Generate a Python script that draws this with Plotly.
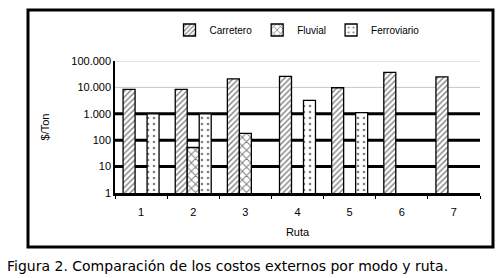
import plotly.graph_objects as go

rutas = ["1", "2", "3", "4", "5", "6", "7"]
carretero = [8400, 8400, 21000, 26000, 9700, 37000, 25000]
fluvial = [None, 53, 180, None, None, None, None]
ferroviario = [1000, 1000, None, 3200, 1100, None, None]
ytickvals = [1, 10, 100, 1000, 10000, 100000]
yticktext = ["1", "10", "100", "1.000", "10.000", "100.000"]
black_grid = [10, 100, 1000]
gray_grid = [10000, 100000]

L, R, T, B = 115, 20, 61, 85
W, H = 500, 278
pw, ph = W - L - R, H - T - B

def px_x(x):
    return (x - L) / pw

def px_y(y):
    return (H - B - y) / ph

fig = go.Figure()
fig.add_trace(go.Bar(
    x=rutas, y=carretero, name="Carretero",
    marker=dict(color="white", line=dict(color="black", width=1.3),
                pattern=dict(shape="/", fgcolor="black", bgcolor="white", size=4, solidity=0.35)),
))
fig.add_trace(go.Bar(
    x=rutas, y=fluvial, name="Fluvial",
    marker=dict(color="white", line=dict(color="black", width=1.3),
                pattern=dict(shape="x", fgcolor="black", bgcolor="white", size=6, solidity=0.3)),
))
fig.add_trace(go.Bar(
    x=rutas, y=ferroviario, name="Ferroviario",
    marker=dict(color="white", line=dict(color="black", width=1.3),
                pattern=dict(shape=".", fgcolor="black", bgcolor="white", size=6, solidity=0.15)),
))

shapes = []
for v in gray_grid:
    shapes.append(dict(type="line", xref="paper", yref="y", x0=0, x1=1, y0=v, y1=v,
                       line=dict(color="#c8c8c8", width=1), layer="between"))
for v in black_grid:
    shapes.append(dict(type="line", xref="paper", yref="y", x0=0, x1=1, y0=v, y1=v,
                       line=dict(color="black", width=3), layer="between"))
# outer frame
shapes.append(dict(type="rect", xref="paper", yref="paper",
                   x0=px_x(28), x1=px_x(493), y0=px_y(247), y1=px_y(10),
                   line=dict(color="black", width=3)))

font = "Liberation Sans, Arial, sans-serif"
fig.update_layout(
    width=W, height=H,
    margin=dict(l=L, r=R, t=T, b=B),
    paper_bgcolor="white", plot_bgcolor="white",
    barmode="group", bargap=0.31, bargroupgap=0,
    font=dict(family=font, size=11, color="black"),
    shapes=shapes,
    showlegend=True,
    legend=dict(orientation="h", x=px_x(297), xanchor="center", y=px_y(30), yanchor="middle",
                font=dict(size=10), itemwidth=30, tracegroupgap=0,
                bgcolor="rgba(0,0,0,0)"),
    xaxis=dict(type="category", showline=True, linecolor="black", linewidth=3,
               ticks="outside", tickson="boundaries", ticklen=3, tickcolor="black",
               showgrid=False, ticklabelstandoff=7,
               title=dict(text="Ruta", font=dict(size=11), standoff=12),
               tickfont=dict(size=11)),
    yaxis=dict(type="log", range=[0, 5], tickvals=ytickvals, ticktext=yticktext,
               showline=True, linecolor="black", linewidth=1.5,
               ticks="", showgrid=False,
               title=dict(text="$/Ton", font=dict(size=11), standoff=19),
               tickfont=dict(size=11), zeroline=False),
    annotations=[dict(text="Figura 2. Comparación de los costos externos por modo y ruta.",
                      xref="paper", yref="paper", x=px_x(5), y=px_y(266),
                      xanchor="left", yanchor="middle", showarrow=False,
                      font=dict(family="DejaVu Sans", size=14, color="black"))],
)

fig.write_html("out.html", config={"displayModeBar": False},
               post_script="document.body.style.margin='0';")
